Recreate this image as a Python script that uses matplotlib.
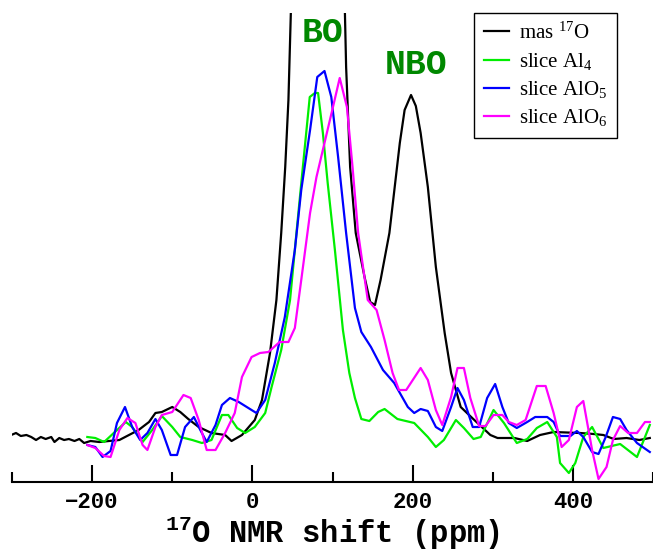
import numpy as np
import matplotlib.pyplot as plt

# 17O MAS spectrum and the three Al-site slices (ppm, arbitrary intensity)
mas_ppm = [-301, -295, -289, -282, -276, -270, -264, -258, -251, -247, -241, -235, -229,
           -222, -216, -210, -202, -191, -179, -166, -154, -142, -129, -121, -113, -100,
           -90, -80, -67, -51, -34, -26, -13, 3, 12, 22, 30, 36, 41, 45, 48, 55, 65, 75,
           85, 95, 105, 115.5, 117, 122, 129, 140, 147, 153, 160, 171, 184, 190, 198,
           204, 210, 219, 229, 240, 248, 260, 277, 297, 306, 327, 343, 359, 376, 409,
           426, 438, 451, 467, 483, 496]
mas_int = [45, 47, 44, 45, 43, 40, 43, 41, 43, 38, 42, 40, 41,
           39, 41, 37, 39, 38, 39, 40, 45, 50, 58, 67, 68, 73,
           68, 61, 53, 47, 45, 39, 45, 60, 80, 127, 180, 247, 313, 380, 467, 620, 837, 986,
           1014, 908, 710, 467, 413, 313, 247, 203, 178, 175, 200, 247, 337, 370, 385,
           374, 347, 293, 213, 147, 107, 73, 60, 45, 42, 42, 39, 45, 48, 47,
           46, 45, 41, 42, 40, 42]

al4_ppm = [-206, -196, -185, -173, -158, -150, -137, -125, -113, -100, -90, -75, -63, -51,
           -38, -30, -19, -9, 3, 16, 24, 36, 47, 55, 63, 71.6, 78, 82, 88, 94, 103, 113,
           121, 128, 136, 146, 157, 165, 181, 202, 219, 229, 239, 254, 264, 276, 285, 301,
           314, 330, 343, 355, 368, 380, 384, 395, 403, 413, 424, 438, 459, 480, 496]
al4_int = [43, 42, 38, 47, 58, 53, 38, 50, 64, 53, 43, 40, 37, 40,
           65, 65, 52, 47, 53, 67, 93, 130, 180, 247, 313, 383, 387, 387, 347, 297, 230, 150,
           107, 82, 61, 59, 68, 71, 61, 57, 43, 33, 40, 60, 52, 41, 43, 70,
           57, 37, 41, 52, 58, 43, 17, 7, 17, 43, 53, 32, 36, 23, 55]

alo5_ppm = [-206, -196, -187, -177, -169, -159, -150, -140, -131, -121, -113, -102, -94,
            -84, -73, -65, -57, -46, -38, -28, -17, -7, 5, 16, 28, 40.5, 53, 61, 72, 81,
            90, 98.5, 107, 117, 128, 136, 148, 163, 177, 194, 202, 210, 219, 229, 237, 248,
            256, 264, 275, 283, 293, 303, 312, 320, 330, 343, 353, 368, 376, 384, 397, 405,
            413, 424, 432, 441, 450, 459, 467, 480, 496]
alo5_int = [35, 33, 23, 29, 57, 73, 53, 40, 47, 61, 50, 25, 25,
            53, 63, 50, 38, 55, 75, 82, 78, 73, 67, 80, 117, 163, 230, 290, 350, 403,
            409, 383, 323, 247, 172, 148, 133, 110, 97, 73, 67, 71, 69, 53, 49, 73,
            92, 80, 53, 53, 82, 96, 73, 57, 52, 58, 63, 63, 58, 44, 44, 49,
            43, 28, 26, 43, 63, 61, 50, 37, 28]

alo6_ppm = [-206, -196, -185, -177, -166, -156, -146, -137, -131, -121, -113, -100, -86,
            -77, -67, -57, -46, -34, -22, -13, -1, 9.5, 20, 34, 45, 53, 61, 72, 80, 90,
            100.6, 109, 118, 125, 132, 144, 155, 165, 175, 183, 192, 210, 219, 229, 237,
            248, 256, 264, 272, 283, 291, 301, 312, 320, 330, 341, 355, 366, 376, 386, 395,
            405, 413, 424, 432, 442, 450, 459, 469, 480, 490, 496]
alo6_int = [35, 32, 24, 23, 50, 62, 57, 35, 30, 53, 65, 68, 85,
            82, 60, 30, 30, 47, 67, 103, 123, 127, 128, 138, 138, 152, 200, 267, 303, 337,
            373, 402, 373, 313, 247, 180, 170, 140, 107, 90, 90, 112, 100, 70, 55,
            83, 112, 112, 82, 54, 54, 65, 65, 58, 55, 60, 94, 94, 67, 33, 40,
            73, 79, 30, 1, 13, 40, 54, 47, 47, 58, 58]

series = [
    (mas_ppm, mas_int, 'black', r'mas $\mathregular{^{17}}$O'),
    (al4_ppm, al4_int, '#00ee00', r'slice Al$\mathregular{_4}$'),
    (alo5_ppm, alo5_int, '#0000ff', r'slice AlO$\mathregular{_5}$'),
    (alo6_ppm, alo6_int, '#ff00ff', r'slice AlO$\mathregular{_6}$'),
]

fig = plt.figure(figsize=(6.53, 5.51), dpi=100)
ax = fig.add_axes([12 / 653, 69 / 551, 641 / 653, 469 / 551])

for x, y, c, lab in series:
    ax.plot(x, y, color=c, lw=1.6, label=lab)

ax.set_xlim(-300, 500)
ax.set_ylim(-2, 467)

for s in ['left', 'top', 'right']:
    ax.spines[s].set_visible(False)
ax.spines['bottom'].set_linewidth(1.5)
ax.set_yticks([])
ax.set_xticks([-200, 0, 200, 400])
ax.set_xticks([-300, -100, 100, 300, 500], minor=True)
ax.tick_params(axis='x', which='major', direction='in', length=12, width=1.5, pad=7)
ax.tick_params(axis='x', which='minor', direction='in', length=7, width=1.5)
for t in ax.get_xticklabels():
    t.set_fontfamily('Liberation Mono')
    t.set_fontweight('bold')
    t.set_fontsize(16)

ax.set_xlabel(r'$\mathregular{^{17}}$O NMR shift (ppm)', fontfamily='Liberation Mono',
              fontweight='bold', fontsize=22, labelpad=1)

ax.text(87, 448, 'BO', color='#008800', fontfamily='Liberation Mono', fontweight='bold',
        fontsize=25, ha='center', va='center')
ax.text(204, 416, 'NBO', color='#008800', fontfamily='Liberation Mono', fontweight='bold',
        fontsize=25, ha='center', va='center')

leg = ax.legend(loc='upper right', bbox_to_anchor=(617 / 653, 538 / 551),
                bbox_transform=fig.transFigure, prop={'family': 'Liberation Serif', 'size': 15},
                fancybox=False, framealpha=1, edgecolor='black', handlelength=1.2,
                handletextpad=0.5, labelspacing=0.35, borderpad=0.45, borderaxespad=0)
leg.get_frame().set_linewidth(1.0)

fig.savefig('out.png', dpi=100)
